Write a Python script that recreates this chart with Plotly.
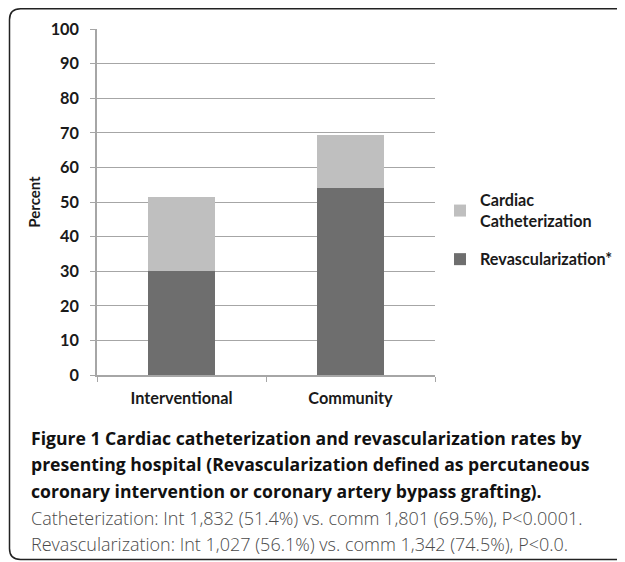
import plotly.graph_objects as go

categories = ["Interventional", "Community"]
revascularization = [30.0, 54.0]
catheterization_extra = [21.4, 15.5]
y_ticks = list(range(0, 101, 10))

OFF = 8  # page offset of the figure (browser body margin)
W, H = 625 - OFF, 562 - OFF
# plot area in page pixels
L, R, T, B = 97, 435, 29, 375

def px(x):
    return (x - L) / (R - L)

def py(y):
    return (B - y) / (B - T)

fig = go.Figure()
fig.add_trace(go.Bar(
    x=categories, y=revascularization, name="Revascularization*",
    legendgroup="revasc", legendrank=2,
    marker=dict(color="#6e6e6e", line=dict(width=0)), width=0.4,
))
fig.add_trace(go.Bar(
    x=categories, y=catheterization_extra, name="Cardiac<br>Catheterization",
    legendgroup="cath", legendrank=1,
    marker=dict(color="#bfbfbf", line=dict(width=0)), width=0.4,
))

tickfont = dict(family="Lato", size=16.3, color="#1a1a1a", weight="bold")

fig.update_layout(
    width=W, height=H,
    margin=dict(l=L - OFF, r=W - (R - OFF), t=T - OFF, b=H - (B - OFF), autoexpand=False, pad=0),
    barmode="stack",
    plot_bgcolor="white", paper_bgcolor="white",
    showlegend=True,
    legend=dict(
        x=px(440), y=py(183), xanchor="left", yanchor="top",
        traceorder="grouped",
        font=dict(family="Lato", size=16.2, color="#1a1a1a", weight="bold"),
        itemwidth=30, tracegroupgap=14,
        bgcolor="rgba(0,0,0,0)",
    ),
    xaxis=dict(
        showgrid=False, showline=True, linecolor="#a6a6a6", linewidth=1.5,
        ticks="outside", tickson="boundaries", ticklen=5, tickcolor="#a6a6a6",
        tickfont=tickfont, automargin=False, ticklabelstandoff=8,
    ),
    yaxis=dict(
        range=[0, 100], tickvals=y_ticks, showgrid=True, gridcolor="#a6a6a6",
        gridwidth=1.2, showline=True, linecolor="#a6a6a6", linewidth=1.5,
        ticks="outside", ticklen=5, tickcolor="#a6a6a6", tickfont=tickfont,
        zeroline=False, automargin=False, ticklabelstandoff=8,
        title=dict(text="Percent", font=dict(family="Lato", size=15, color="#1a1a1a", weight="bold"), standoff=6),
    ),
)

# Rounded frame (open on the right)
r = 11
x0, y0, y1 = 9.5, 8.8, 559.5
path = (f"M {px(640)},{py(y0)} L {px(x0 + r)},{py(y0)} "
        f"Q {px(x0)},{py(y0)} {px(x0)},{py(y0 + r)} "
        f"L {px(x0)},{py(y1 - r)} Q {px(x0)},{py(y1)} {px(x0 + r)},{py(y1)} "
        f"L {px(640)},{py(y1)}")
fig.add_shape(type="path", path=path, xref="paper", yref="paper",
              line=dict(color="#222222", width=1.5))

caption_bold = [
    "<b>Figure 1</b> Cardiac catheterization and revascularization rates by",
    "presenting hospital (Revascularization defined as percutaneous",
    "coronary intervention or coronary artery bypass grafting).",
]
caption_plain = [
    "Catheterization: Int 1,832 (51.4%) vs. comm 1,801 (69.5%), P<0.0001.",
    "Revascularization: Int 1,027 (56.1%) vs. comm 1,342 (74.5%), P<0.0.",
]
ys_bold = [438, 464, 491]
ys_plain = [518, 544]
for t, yy in zip(caption_bold, ys_bold):
    fig.add_annotation(text=t, x=px(29), y=py(yy), xref="paper", yref="paper",
                       xanchor="left", yanchor="middle", showarrow=False,
                       font=dict(family="Open Sans", size=17.6, color="#111111", weight="bold"))
for t, yy in zip(caption_plain, ys_plain):
    fig.add_annotation(text=t, x=px(29), y=py(yy), xref="paper", yref="paper",
                       xanchor="left", yanchor="middle", showarrow=False,
                       font=dict(family="Open Sans", size=18, color="#4a4a4a", weight=300))

fig.write_html("out.html")
